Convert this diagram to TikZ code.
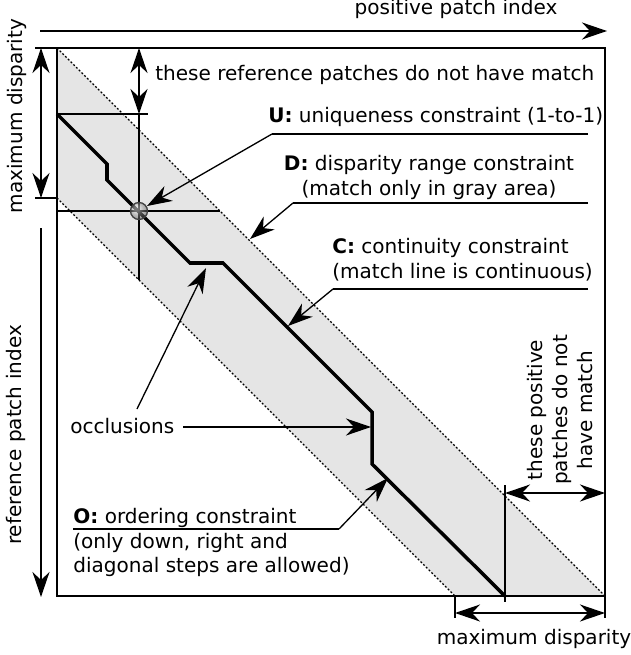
\documentclass[tikz,border=0pt]{standalone}
\usepackage{fontspec}
\setmainfont{DejaVu Sans}
\usetikzlibrary{arrows.meta,positioning}

\begin{document}
\begin{tikzpicture}[x=0.02cm,y=-0.02cm,
                    font=\fontsize{11.4}{14}\selectfont,
                    >={Stealth[length=5mm,width=3.4mm,inset=1.6mm]},
                    frame/.style={line width=0.9pt},
                    leader/.style={line width=0.75pt},
                    bound/.style={line width=0.75pt,dash pattern=on 1.1pt off 1.1pt},
                    matchline/.style={line width=2pt,line join=miter},
                    oneway/.style={line width=0.9pt,->},
                    twoway/.style={line width=0.9pt,<->},
                    label/.style={inner sep=0pt}
                ]
    \useasboundingbox (0,0) rectangle (631,655);
    % corners of the matching matrix
    \coordinate (tl) at (57,48);
    \coordinate (tr) at (605,48);
    \coordinate (bl) at (57,596);
    \coordinate (br) at (605,596);
    \coordinate (dl) at (57,198);
    \coordinate (db) at (455,596);
    % gray area between the disparity bounds
    \fill[black!10] (tl) -- (br) -- (db) -- (dl) -- cycle;
    \draw[bound] (tl) -- (br);
    \draw[bound] (dl) -- (db);
    % crosshair of the uniqueness point
    \coordinate (u) at (139,211);
    \coordinate (ut) at (139,114);
    \coordinate (ub) at (139,280);
    \coordinate (ul) at (57,211);
    \coordinate (ur) at (220,211);
    \draw[leader] (ut) -- (ub);
    \draw[leader] (ul) -- (ur);
    % match line
    \foreach \n/\x/\y in {0/57/114,1/107/164,2/107/180,3/190/263,4/223/263,5/372/412,6/372/464,7/505/596}
        \coordinate (m\n) at (\x,\y);
    \draw[matchline] (m0) \foreach \n in {1,...,7}{ -- (m\n)};
    \shade[ball color=black!20,opacity=0.5] (u) circle (0.17cm);
    \draw[leader,black!75] (u) circle (0.17cm);
    % frame and ticks
    \draw[frame] (tl) rectangle (br);
    \coordinate (tlx) at (35,48);
    \coordinate (dlx) at (35,198);
    \coordinate (mtx) at (148,114);
    \coordinate (brx) at (605,618);
    \coordinate (dbx) at (455,618);
    \coordinate (pt) at (505,485);
    \coordinate (pb) at (505,602);
    \draw[frame] (tlx) -- (tl);
    \draw[frame] (br) -- (brx);
    \draw[leader] (dlx) -- (dl);
    \draw[leader] (m0) -- (mtx);
    \draw[leader] (db) -- (dbx);
    \draw[leader] (pt) -- (pb);
    % axes
    \coordinate (ax0) at (40,31);
    \coordinate (ax1) at (607,31);
    \draw[oneway] (ax0) -- (ax1);
    \node[label] (posidx) at (456,9) {positive patch index};
    \coordinate (ay0) at (41,228);
    \coordinate (ay1) at (41,597);
    \draw[oneway] (ay0) -- (ay1);
    \node[label,rotate=90] (refidx) at (16,435) {reference patch index};
    % disparity ranges
    \coordinate (ld0) at (41,48);
    \coordinate (ld1) at (41,198);
    \draw[twoway] (ld0) -- (ld1);
    \node[label,rotate=90] (maxdl) at (17,116) {maximum disparity};
    \coordinate (bd0) at (455,613);
    \coordinate (bd1) at (605,613);
    \draw[twoway] (bd0) -- (bd1);
    \node[label] (maxdb) at (534,639) {maximum disparity};
    % patches without match
    \coordinate (rn0) at (139,48);
    \draw[twoway] (rn0) -- (ut);
    \node[label,anchor=base west] (refnm) at (155,81) {these reference patches do not have match};
    \coordinate (pn0) at (505,493);
    \coordinate (pn1) at (605,493);
    \draw[twoway] (pn0) -- (pn1);
    \node[label,rotate=90,align=center] (posnm) at (560,410) {these positive\\patches do not\\have match};
    % U: uniqueness
    \node[label,anchor=base west] (ulab) at (268,123) {\textbf{U:} uniqueness constraint (1-to-1)};
    \coordinate (ul0) at (272,134);
    \coordinate (ul1) at (588,134);
    \coordinate (utip) at (147,206);
    \draw[leader] (ul1) -- (ul0);
    \draw[leader,->] (ul0) -- (utip);
    % D: disparity range
    \node[label,align=center,anchor=north] (dlab) at (429,155) {\textbf{D:} disparity range constraint\\(match only in gray area)};
    \coordinate (dl0) at (293,203);
    \coordinate (dl1) at (588,203);
    \coordinate (dtip) at (250,239);
    \draw[leader] (dl1) -- (dl0);
    \draw[leader,->] (dl0) -- (dtip);
    % C: continuity
    \node[label,align=left,anchor=north west] (clab) at (332,238) {\textbf{C:} continuity constraint\\(match line is continuous)};
    \coordinate (cl0) at (333,289);
    \coordinate (cl1) at (588,289);
    \coordinate (ctip) at (288,326);
    \draw[leader] (cl1) -- (cl0);
    \draw[leader,->] (cl0) -- (ctip);
    % occlusions
    \node[label,anchor=base west] (occ) at (70,433) {occlusions};
    \coordinate (oc0) at (137,409);
    \coordinate (oc1) at (206,268);
    \coordinate (oc2) at (183,427);
    \coordinate (oc3) at (371,427);
    \draw[leader,->] (oc0) -- (oc1);
    \draw[leader,->] (oc2) -- (oc3);
    % O: ordering
    \node[label,align=left,anchor=north west] (olab) at (73,508) {\textbf{O:} ordering constraint\\(only down, right and\\diagonal steps are allowed)};
    \coordinate (ol0) at (73,529);
    \coordinate (ol1) at (339,529);
    \coordinate (otip) at (388,478);
    \draw[leader] (ol0) -- (ol1);
    \draw[leader,->] (ol1) -- (otip);
\end{tikzpicture}
\end{document}
